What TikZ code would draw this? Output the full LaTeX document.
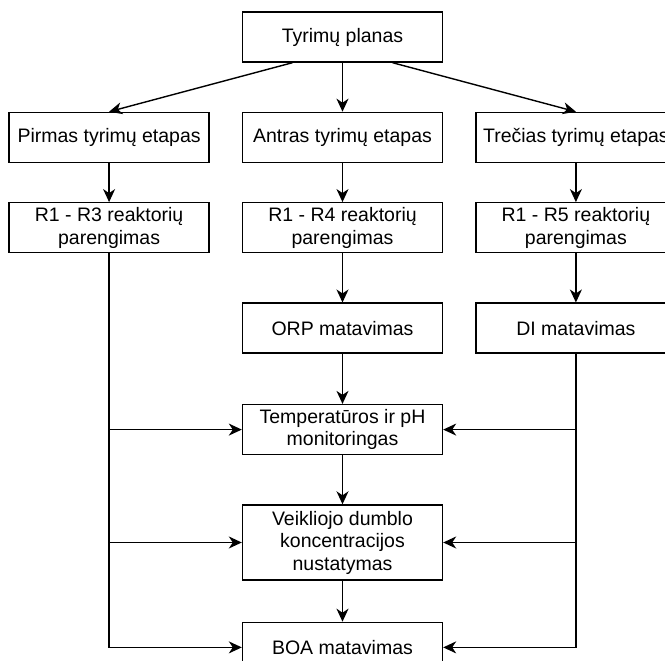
\documentclass[tikz,border=0pt]{standalone}
\usepackage{fontspec}
\setmainfont{Liberation Sans}
\usetikzlibrary{arrows.meta,positioning}

\begin{document}
\begin{tikzpicture}[x=1pt,y=1pt,font=\fontsize{19.5}{22.5}\selectfont,node distance=49pt and 32pt,
 box/.style={draw,line width=1.4pt,minimum width=200pt,minimum height=50pt,inner sep=3pt,align=center},
 flow/.style={-{Stealth[length=13pt,width=12pt,inset=4pt]},line width=1.4pt}]
\useasboundingbox (0,0) rectangle (665,661);
\fill[white] (0,0) rectangle (665,661);
\node[box] (plan) at (342.5,624) {Tyrimų planas};
\node[box,below=of plan] (a2) {Antras tyrimų etapas};
\node[box,left=of a2] (a1) {Pirmas tyrimų etapas};
\node[box,right=of a2] (a3) {Trečias tyrimų etapas};
\node[box,below=39pt of a1] (r3) {R1 - R3 reaktorių\\parengimas};
\node[box,below=39pt of a2] (r4) {R1 - R4 reaktorių\\parengimas};
\node[box,below=39pt of a3] (r5) {R1 - R5 reaktorių\\parengimas};
\node[box,below=of r4] (orp) {ORP matavimas};
\node[box,below=of r5] (di) {DI matavimas};
\node[box,below=50pt of orp] (temp) {Temperatūros ir pH\\monitoringas};
\node[box,below=of temp,minimum height=75pt] (veik) {Veikliojo dumblo\\koncentracijos\\nustatymas};
\node[box,below=41pt of veik] (boa) {BOA matavimas};
\draw[flow] ([xshift=-50pt]plan.south) -- (a1.north);
\draw[flow] (plan) -- (a2);
\draw[flow] ([xshift=50pt]plan.south) -- (a3.north);
\draw[flow] (a1) -- (r3);
\draw[flow] (a2) -- (r4);
\draw[flow] (a3) -- (r5);
\draw[flow] (r4) -- (orp);
\draw[flow] (r5) -- (di);
\draw[flow] (orp) -- (temp);
\draw[flow] (temp) -- (veik);
\draw[flow] (veik) -- (boa);
\draw[flow] (r3.south) |- (temp.west);
\draw[flow] (r3.south) |- (veik.west);
\draw[flow] (r3.south) |- (boa.west);
\draw[flow] (di.south) |- (temp.east);
\draw[flow] (di.south) |- (veik.east);
\draw[flow] (di.south) |- (boa.east);
\end{tikzpicture}
\end{document}
